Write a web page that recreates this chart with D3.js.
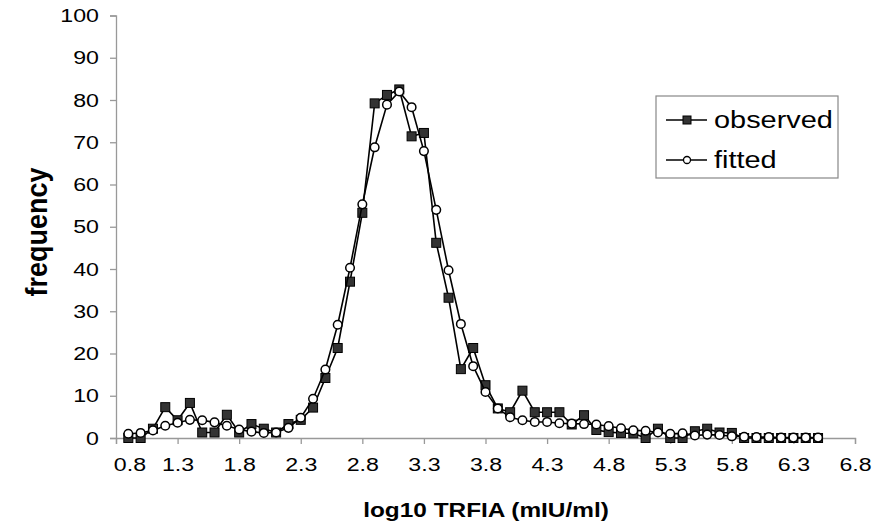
<!DOCTYPE html>
<html>
<head>
<meta charset="utf-8">
<script src="https://cdn.jsdelivr.net/npm/d3@7"></script>
<style>
  body { margin: 0; background: #fff; }
  text { font-family: "Liberation Sans", Arial, sans-serif; fill: #000; }
</style>
</head>
<body>
<script>
// log10 TRFIA bins (0.1 wide)
var bins = [0.9, 1.0, 1.1, 1.2, 1.3, 1.4, 1.5, 1.6, 1.7, 1.8, 1.9, 2.0, 2.1, 2.2, 2.3, 2.4, 2.5, 2.6, 2.7, 2.8,
  2.9, 3.0, 3.1, 3.2, 3.3, 3.4, 3.5, 3.6, 3.7, 3.8, 3.9, 4.0, 4.1, 4.2, 4.3, 4.4, 4.5, 4.6, 4.7, 4.8,
  4.9, 5.0, 5.1, 5.2, 5.3, 5.4, 5.5, 5.6, 5.7, 5.8, 5.9, 6.0, 6.1, 6.2, 6.3, 6.4, 6.5];

var observed = [0, 0, 2.2, 7.3, 4.2, 8.3, 1.3, 1.3, 5.5, 1.3, 3.3, 2.2, 1.3, 3.3, 4.3, 7.2, 14.2, 21.3, 37, 53.3,
  79.2, 81.2, 82.5, 71.4, 72.2, 46.2, 33.2, 16.3, 21.3, 12.5, 7, 6.1, 11.2, 6.1, 6.1, 6.1, 3.2, 5.4, 1.9, 1.4,
  1.2, 1.1, 0, 2.2, 0, 0, 1.6, 2.2, 1.3, 1.2, 0, 0, 0, 0, 0, 0, 0];

var fitted = [1.0, 1.2, 1.8, 2.9, 3.6, 4.3, 4.2, 3.7, 2.9, 2.0, 1.5, 1.2, 1.3, 2.4, 4.8, 9.3, 16.2, 26.8, 40.3, 55.3,
  68.8, 78.9, 82, 78.3, 67.9, 54, 39.7, 27, 17, 10.9, 7, 4.9, 4.2, 3.8, 3.8, 3.5, 3.4, 3.3, 3.2, 2.8,
  2.3, 1.8, 1.7, 1.3, 1.0, 1.1, 0.6, 0.8, 0.7, 0.4, 0.3, 0.2, 0.2, 0.1, 0.1, 0.1, 0.1];

var xTicks = [0.8, 1.3, 1.8, 2.3, 2.8, 3.3, 3.8, 4.3, 4.8, 5.3, 5.8, 6.3, 6.8];
var yTicks = [0, 10, 20, 30, 40, 50, 60, 70, 80, 90, 100];
var seriesNames = ["observed", "fitted"];

var svgWidth = 872;
var svgHeight = 530;
var stretch = 1.22; // the source picture is a bit wide

var svg = d3.select("body")
  .append("svg")
  .attr("width", svgWidth)
  .attr("height", svgHeight);

var x = d3.scaleLinear().domain([0.8, 6.8]).range([116, 855]);
var y = d3.scaleLinear().domain([0, 100]).range([438, 15.5]);

// axes
var xAxis = d3.axisBottom(x).tickValues(xTicks).tickSize(6).tickPadding(8)
  .tickFormat(d3.format(".1f"));
var yAxis = d3.axisLeft(y).tickValues(yTicks).tickSize(6).tickPadding(8);

var gx = svg.append("g")
  .attr("transform", "translate(0,438)")
  .call(xAxis);
var gy = svg.append("g")
  .attr("transform", "translate(116,0)")
  .call(yAxis);

[gx, gy].forEach(function (g) {
  g.select(".domain").attr("stroke", "#999").attr("stroke-width", 1.3);
  g.selectAll(".tick line").attr("stroke", "#999").attr("stroke-width", 1.3);
  g.selectAll(".tick text")
    .style("font-family", "Liberation Sans, Arial, sans-serif")
    .style("font-size", "19px")
    .attr("fill", "#000")
    .attr("transform", "scale(" + stretch + ",1)");
});
gx.selectAll(".tick text").attr("dy", "1.0em");
// first label sits clear of the y axis, as in the source
gx.selectAll(".tick text").filter(function (d) { return d === 0.8; }).attr("x", 11);

// axis titles
svg.append("text")
  .attr("transform", "translate(486,517) scale(" + stretch + ",1)")
  .attr("text-anchor", "middle")
  .style("font-size", "20px")
  .style("font-weight", "bold")
  .text("log10 TRFIA (mIU/ml)");

svg.append("text")
  .attr("transform", "translate(47,232) rotate(-90) scale(1,1.1)")
  .attr("text-anchor", "middle")
  .style("font-size", "27px")
  .style("font-weight", "bold")
  .text("frequency");

// lines and markers
var line = d3.line()
  .x(function (d) { return x(d[0]); })
  .y(function (d) { return y(d[1]); });

var obsData = bins.map(function (b, i) { return [b, observed[i]]; });
var fitData = bins.map(function (b, i) { return [b, fitted[i]]; });

svg.append("path")
  .datum(obsData)
  .attr("fill", "none")
  .attr("stroke", "#000")
  .attr("stroke-width", 1.6)
  .attr("d", line);

svg.selectAll(".obs")
  .data(obsData)
  .enter()
  .append("rect")
  .attr("class", "obs")
  .attr("x", function (d) { return x(d[0]) - 4.5; })
  .attr("y", function (d) { return y(d[1]) - 4.5; })
  .attr("width", 9)
  .attr("height", 9)
  .attr("fill", "#333")
  .attr("stroke", "#000")
  .attr("stroke-width", 1);

svg.append("path")
  .datum(fitData)
  .attr("fill", "none")
  .attr("stroke", "#000")
  .attr("stroke-width", 1.6)
  .attr("d", line);

svg.selectAll(".fit")
  .data(fitData)
  .enter()
  .append("circle")
  .attr("class", "fit")
  .attr("cx", function (d) { return x(d[0]); })
  .attr("cy", function (d) { return y(d[1]); })
  .attr("r", 4.3)
  .attr("fill", "#fff")
  .attr("stroke", "#000")
  .attr("stroke-width", 1.5);

// legend
var legend = svg.append("g").attr("transform", "translate(656,96)");
legend.append("rect")
  .attr("width", 182)
  .attr("height", 82)
  .attr("fill", "#fff")
  .attr("stroke", "#888")
  .attr("stroke-width", 1.2);

seriesNames.forEach(function (name, i) {
  var row = legend.append("g").attr("transform", "translate(0," + (24 + i * 40) + ")");
  row.append("line")
    .attr("x1", 10).attr("x2", 51)
    .attr("stroke", "#000").attr("stroke-width", 1.6);
  if (i === 0) {
    row.append("rect")
      .attr("x", 27).attr("y", -4).attr("width", 8).attr("height", 8)
      .attr("fill", "#333").attr("stroke", "#000");
  } else {
    row.append("circle")
      .attr("cx", 31).attr("r", 3.5)
      .attr("fill", "#fff").attr("stroke", "#000").attr("stroke-width", 1.3);
  }
  row.append("text")
    .attr("transform", "translate(58,8) scale(1.23,1)")
    .style("font-size", "23.5px")
    .text(name);
});
</script>
</body>
</html>
